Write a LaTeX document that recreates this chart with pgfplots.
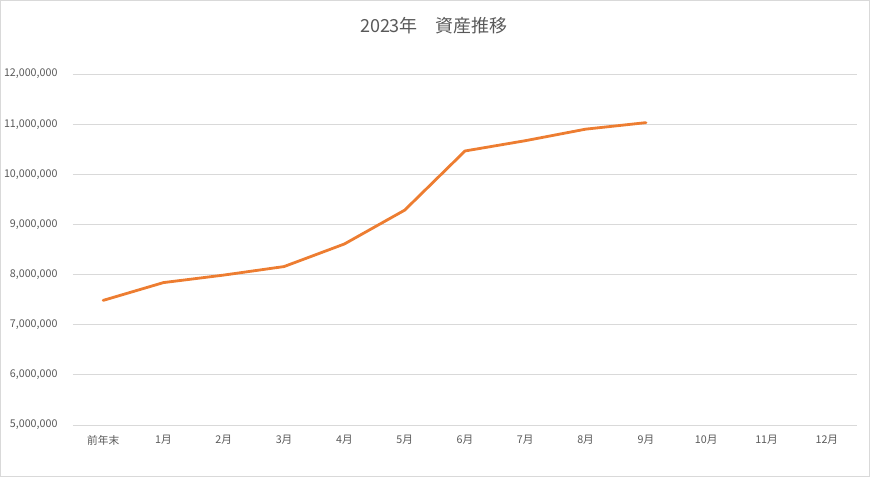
\documentclass[border=0pt]{standalone}
\usepackage{pgfplots}
\pgfplotsset{compat=1.18}
\usepackage{fontspec}
\setmainfont{Noto Sans CJK JP}
\definecolor{lineor}{HTML}{ED7D31}
\definecolor{gridc}{HTML}{D9D9D9}
\definecolor{txt}{HTML}{595959}
\definecolor{bord}{HTML}{D9D9D9}
\begin{document}
\begin{tikzpicture}[x=1pt,y=1pt]
\useasboundingbox (-73,-52) rectangle (797,425);
\draw[bord, line width=0.8pt] (-72.5,-51.5) rectangle (796.5,424.5);
\begin{axis}[
  at={(0,0)}, anchor=south west,
  scale only axis, width=784pt, height=351pt,
  xmin=-0.5, xmax=12.5, ymin=5000000, ymax=12000000,
  xtick={0,1,2,3,4,5,6,7,8,9,10,11,12},
  xticklabels={前年末,1月,2月,3月,4月,5月,6月,7月,8月,9月,10月,11月,12月},
  ytick={5000000,6000000,7000000,8000000,9000000,10000000,11000000,12000000},
  scaled y ticks=false,
  yticklabel style={/pgf/number format/fixed, /pgf/number format/1000 sep={,}, /pgf/number format/assume math mode=true, font=\fontsize{10.7}{12}\selectfont, text=txt},
  xticklabel style={font=\fontsize{10.7}{12}\selectfont, text=txt},
  ymajorgrids, grid style={gridc, line width=0.8pt},
  axis line style={draw=none},
  major tick length=0pt,
  xticklabel shift=7pt, yticklabel shift=12pt,
  clip=false,
]
\addplot[lineor, line width=2.8pt, line join=round, line cap=round, mark=none] coordinates {
(0,7485000) (1,7840000) (2,7990000) (3,8160000) (4,8610000) (5,9285000) (6,10465000) (7,10670000) (8,10900000) (9,11030000)
};
\end{axis}
\node[text=txt, font=\fontsize{18}{21}\selectfont] at (361,399) {2023年　資産推移};
\end{tikzpicture}
\end{document}
